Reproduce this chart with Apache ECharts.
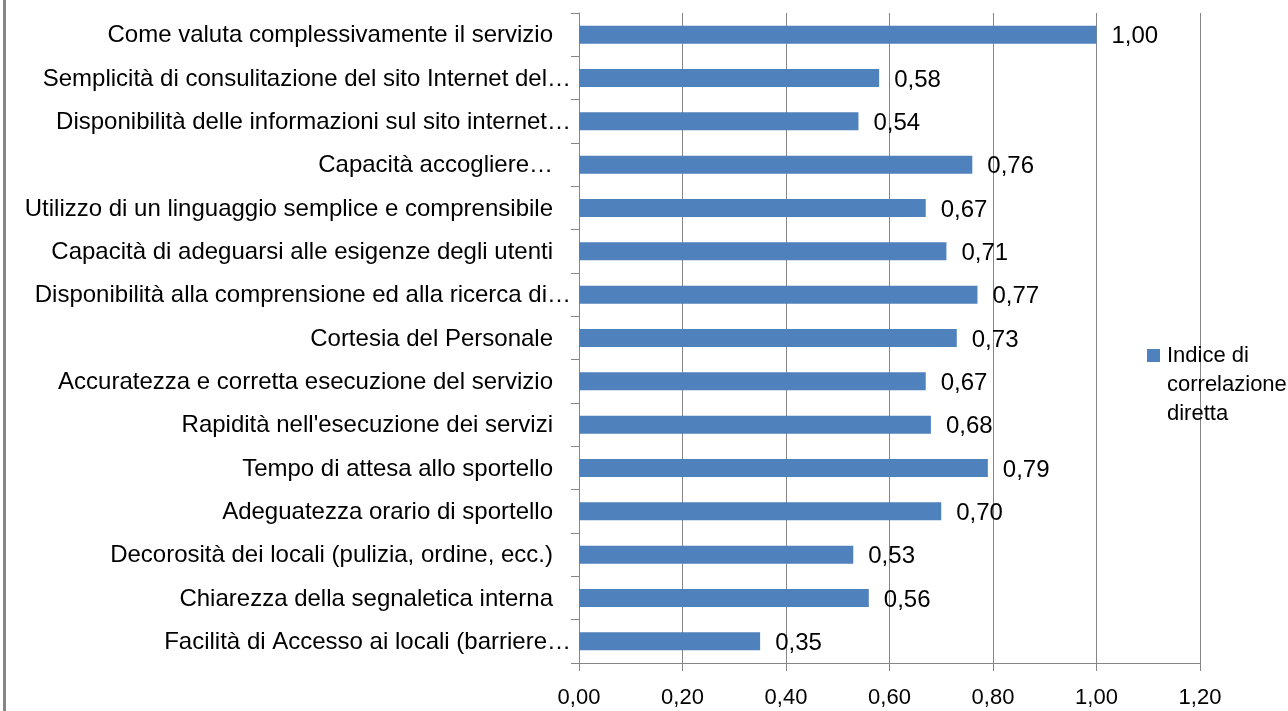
<!DOCTYPE html>
<html>
<head>
<meta charset="utf-8">
<script src="https://cdn.jsdelivr.net/npm/echarts@6/dist/echarts.min.js"></script>
<style>
  html, body { margin: 0; padding: 0; background: #fff; }
  #chart { width: 1288px; height: 711px; }
</style>
</head>
<body>
<div id="chart"></div>
<script>
// dati (dall'alto verso il basso); lo spazio finale è quello delle etichette Excel
const categories = [
    'Come valuta complessivamente il servizio ',
    'Semplicità di consulitazione del sito Internet del…',
    'Disponibilità delle informazioni sul sito internet…',
    'Capacità accogliere… ',
    'Utilizzo di un linguaggio semplice e comprensibile ',
    'Capacità di adeguarsi alle esigenze degli utenti ',
    'Disponibilità alla comprensione ed alla ricerca di…',
    'Cortesia del Personale ',
    'Accuratezza e corretta esecuzione del servizio ',
    "Rapidità nell'esecuzione dei servizi ",
    'Tempo di attesa allo sportello ',
    'Adeguatezza orario di sportello ',
    'Decorosità dei locali (pulizia, ordine, ecc.) ',
    'Chiarezza della segnaletica interna ',
    'Facilità di Accesso ai locali (barriere…'
];
const values = [1.00, 0.58, 0.54, 0.76, 0.67, 0.71, 0.77, 0.73, 0.67, 0.68, 0.79, 0.70, 0.53, 0.56, 0.35];
const seriesName = 'Indice di correlazione diretta';
const legendLines = ['Indice di', 'correlazione', 'diretta'];
const xTicks = { min: 0, max: 1.2, interval: 0.2 };

const font = '"Liberation Sans", Arial, sans-serif';
const grigio = '#868686';
const fmt = v => v.toFixed(2).replace('.', ',');

const chart = echarts.init(document.getElementById('chart'));
const option = {
    animation: false,
    textStyle: { fontFamily: font },
    grid: { left: 579, right: 88, top: 13, bottom: 48 },
    graphic: [
        // bordo sinistro del riquadro
        { type: 'rect', left: 3, top: 0, shape: { width: 3, height: 711 }, style: { fill: grigio } }
    ],
    legend: {
        left: 1147,
        top: 283,
        padding: 0,
        icon: 'rect',
        itemWidth: 13,
        itemHeight: 13,
        // due righe vuote sopra così il quadratino resta sulla prima riga
        formatter: () => '\n\n' + legendLines.join('\n'),
        textStyle: { fontFamily: font, fontSize: 22, color: '#000', lineHeight: 29, padding: [0, 0, 0, 2] }
    },
    xAxis: {
        type: 'value',
        min: xTicks.min,
        max: xTicks.max,
        interval: xTicks.interval,
        axisLine: { show: true, lineStyle: { color: grigio } },
        axisTick: { show: true, length: 8, lineStyle: { color: grigio } },
        splitLine: { show: true, lineStyle: { color: grigio } },
        axisLabel: { formatter: fmt, fontSize: 22, color: '#000', margin: 24, fontFamily: font }
    },
    yAxis: {
        type: 'category',
        inverse: true,
        data: categories,
        axisLine: { show: true, lineStyle: { color: grigio } },
        axisTick: { show: true, length: 8, lineStyle: { color: grigio } },
        axisLabel: {
            margin: 8,
            interval: 0,
            fontSize: 24,
            color: '#000',
            fontFamily: font,
            formatter: v => v.endsWith(' ') ? '{p|' + v.trim() + '}' : '{n|' + v + '}',
            rich: {
                p: { fontSize: 24, fontFamily: font, color: '#000', padding: [2, 18, 0, 0] },
                n: { fontSize: 24, fontFamily: font, color: '#000', padding: [2, 0, 0, 0] }
            }
        }
    },
    series: [
        {
            name: seriesName,
            type: 'bar',
            data: values,
            barWidth: 18,
            itemStyle: { color: '#4F81BD' },
            label: {
                show: true,
                position: 'right',
                distance: 15,
                offset: [0, 2],
                formatter: p => fmt(p.value),
                fontSize: 24,
                color: '#000',
                fontFamily: font
            }
        }
    ]
};
chart.setOption(option);
</script>
</body>
</html>
